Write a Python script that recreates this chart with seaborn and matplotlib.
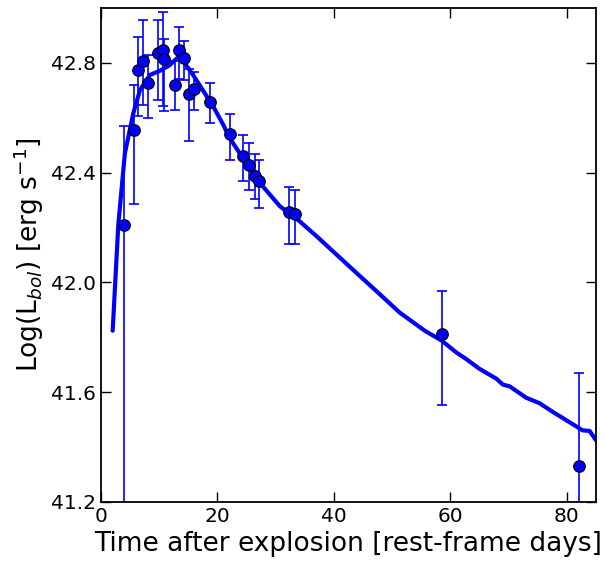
import matplotlib
matplotlib.use("Agg")
import matplotlib.pyplot as plt
import seaborn as sns
import pandas as pd

# Наблюдаемые точки: время (сутки), log L, нижняя и верхняя ошибка
obs_days = [3.95, 5.66, 6.35, 7.2, 8.06, 9.78, 10.6, 10.8, 12.7, 13.4, 14.3,
            15.1, 16.0, 18.7, 22.1, 24.4, 25.4, 26.4, 27.15, 32.3, 33.3,
            58.55, 82.0]
obs_logl = [42.211, 42.557, 42.775, 42.807, 42.728, 42.836, 42.847, 42.815,
            42.718, 42.847, 42.818, 42.687, 42.705, 42.658, 42.540, 42.459,
            42.429, 42.387, 42.371, 42.256, 42.250, 41.812, 41.332]
err_lo = [1.5, 0.27, 0.17, 0.16, 0.13, 0.17, 0.205, 0.19, 0.088, 0.105,
          0.08, 0.17, 0.076, 0.078, 0.093, 0.091, 0.094, 0.084, 0.099,
          0.116, 0.110, 0.257, 0.5]
err_hi = [0.36, 0.163, 0.12, 0.15, 0.10, 0.12, 0.137, 0.073, 0.09, 0.082,
          0.063, 0.09, 0.063, 0.067, 0.073, 0.079, 0.078, 0.081, 0.076,
          0.091, 0.088, 0.157, 0.337]

# Модельная кривая
model_days = [2.0, 2.97, 4.1, 5.54, 6.69, 8.4, 10.1, 11.8, 13.3, 13.8, 14.4,
              15.8, 17.5, 19.3, 21.0, 22.1, 23.8, 27.3, 30.7, 34.1, 37.3,
              40.0, 44.0, 47.0, 51.3, 55.6, 58.5, 61.0, 62.7, 65.0,
              67.9, 69.0, 70.2, 73.0, 75.3, 77.6, 79.9, 82.7, 83.9, 85.0]
model_logl = [41.824, 42.211, 42.471, 42.616, 42.701, 42.756, 42.771, 42.792,
              42.822, 42.830, 42.798, 42.756, 42.700, 42.640, 42.574, 42.526,
              42.471, 42.362, 42.278, 42.223, 42.163, 42.110, 42.032, 41.974,
              41.890, 41.824, 41.788, 41.745, 41.721, 41.685, 41.649,
              41.628, 41.621, 41.580, 41.560, 41.528, 41.498, 41.461, 41.459,
              41.425]


def make_plot(filename="out.png"):
    sns.set_style("ticks", {
        "xtick.direction": "in", "ytick.direction": "in",
        "xtick.top": True, "ytick.right": True,
        "axes.edgecolor": "black", "text.color": "black",
        "axes.labelcolor": "black",
        "xtick.color": "black", "ytick.color": "black",
    })
    plt.rcParams["font.family"] = ["DejaVu Sans"]
    plt.rcParams["mathtext.fontset"] = "dejavusans"

    fig = plt.figure(figsize=(6.06, 5.66), dpi=100)
    ax = fig.add_axes([0.1667, 0.1131, 0.8168, 0.8728])

    model = pd.DataFrame({"t": model_days, "logl": model_logl})
    sns.lineplot(data=model, x="t", y="logl", ax=ax, color="blue",
                 linewidth=3, estimator=None, sort=False)

    ax.errorbar(obs_days, obs_logl, yerr=[err_lo, err_hi], fmt="none",
                ecolor="blue", elinewidth=1.2, capsize=3.5, capthick=1.2)
    obs = pd.DataFrame({"t": obs_days, "logl": obs_logl})
    sns.scatterplot(data=obs, x="t", y="logl", ax=ax, color="blue",
                    edgecolor="black", linewidth=0.8, s=70, zorder=5)

    ax.set_xlim(0, 85)
    ax.set_ylim(41.2, 43.0)
    ax.set_xticks([0, 20, 40, 60, 80])
    ax.set_yticks([41.2, 41.6, 42.0, 42.4, 42.8])
    ax.tick_params(which="major", length=7, width=1, labelsize=14.5,
                   colors="black", top=True, right=True)
    for s in ax.spines.values():
        s.set_linewidth(1.3)

    ax.set_xlabel("Time after explosion [rest-frame days]", fontsize=19)
    ax.set_ylabel(r"Log(L$_{bol}$) [erg s$^{-1}$]", fontsize=19)

    fig.savefig(filename, dpi=100)


if __name__ == "__main__":
    make_plot()
